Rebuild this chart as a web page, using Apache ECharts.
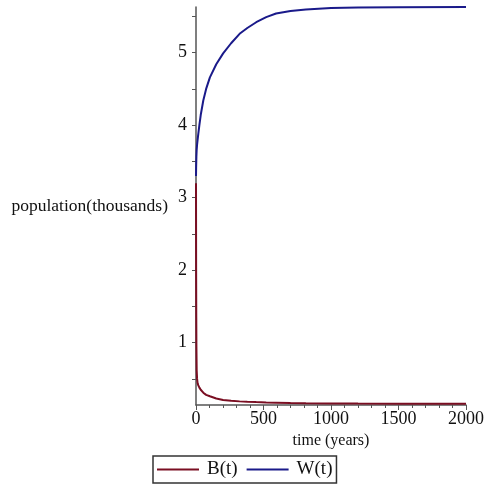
<!DOCTYPE html>
<html>
<head>
<meta charset="utf-8">
<script src="https://cdn.jsdelivr.net/npm/echarts@6/dist/echarts.min.js"></script>
<style>
  html, body { margin: 0; padding: 0; background: #fff; }
  #chart { width: 487px; height: 486px; }
</style>
</head>
<body>
<div id="chart"></div>
<script>
// time (years)
var years = [0, 1, 2, 3, 5, 8, 12, 17, 25, 35, 54, 75, 103, 150, 201, 260, 323, 380, 446, 520, 593, 700, 814, 1000, 1200, 1500, 2000];
// population (thousands)
var seriesB = [3.2, 2.0, 1.35, 0.95, 0.62, 0.5, 0.44, 0.41, 0.38, 0.35, 0.31, 0.28, 0.26, 0.23, 0.21, 0.2, 0.19, 0.185, 0.18, 0.175, 0.172, 0.168, 0.165, 0.162, 0.16, 0.158, 0.156];
var seriesW = [3.3, 3.42, 3.5, 3.57, 3.66, 3.73, 3.8, 3.88, 4.0, 4.14, 4.34, 4.5, 4.66, 4.84, 4.99, 5.13, 5.26, 5.34, 5.42, 5.49, 5.54, 5.575, 5.595, 5.615, 5.622, 5.627, 5.63];
var seriesNames = ['B(t)', 'W(t)'];
var xLabels = [0, 500, 1000, 1500, 2000];
var yLabels = [1, 2, 3, 4, 5];
var yTicks = [0.5, 1, 1.5, 2, 2.5, 3, 3.5, 4, 4.5, 5, 5.5];

var colors = ['#7a0e22', '#1a1a8a'];
var font = '"Liberation Serif", "DejaVu Serif", serif';

function pairs(vals) {
	var arr = [];
	years.map(function (t, i) {
		arr.push([t, vals[i]]);
	});
	return arr;
}

var myChart = echarts.init(document.getElementById('chart'));
var option = {
	backgroundColor: '#fff',
	animation: false,
	grid: { left: 196, right: 20, top: 7, bottom: 81 },
	legend: {
		data: seriesNames,
		left: 153,
		top: 456,
		icon: 'rect',
		itemWidth: 42,
		itemHeight: 2,
		itemGap: 9,
		padding: [4, 4, 4, 4],
		borderColor: '#333',
		borderWidth: 1.5,
		backgroundColor: '#fff',
		textStyle: { fontFamily: font, fontSize: 19, color: '#111', padding: [0, 0, 0, 3] }
	},
	xAxis: {
		type: 'value',
		min: 0,
		max: 2000,
		interval: 500,
		name: 'time (years)',
		nameLocation: 'middle',
		nameGap: 26,
		nameTextStyle: { fontFamily: font, fontSize: 16, color: '#111' },
		axisLine: { lineStyle: { color: '#555', width: 1.5 } },
		axisTick: { show: true, length: 5, lineStyle: { color: '#555' } },
		minorTick: { show: true, splitNumber: 5, length: 3, lineStyle: { color: '#555' } },
		splitLine: { show: false },
		axisLabel: {
			margin: 5,
			fontFamily: font,
			fontSize: 18,
			color: '#111',
			customValues: xLabels,
			formatter: function (v) { return String(v); }
		}
	},
	yAxis: {
		type: 'value',
		min: 0.14,
		max: 5.63,
		name: 'population(thousands)',
		nameLocation: 'middle',
		nameRotate: 0,
		nameGap: 28,
		nameTextStyle: { fontFamily: font, fontSize: 17.5, color: '#111', align: 'right' },
		axisLine: { show: true, lineStyle: { color: '#555', width: 1.5 } },
		axisTick: { show: true, length: 4, lineStyle: { color: '#555' }, customValues: yTicks },
		splitLine: { show: false },
		axisLabel: {
			margin: 9,
			fontFamily: font,
			fontSize: 18,
			color: '#111',
			customValues: yLabels
		}
	},
	series: [
		{
			name: seriesNames[0],
			type: 'line',
			showSymbol: false,
			data: pairs(seriesB),
			lineStyle: { color: colors[0], width: 2 },
			itemStyle: { color: colors[0] }
		},
		{
			name: seriesNames[1],
			type: 'line',
			showSymbol: false,
			data: pairs(seriesW),
			lineStyle: { color: colors[1], width: 2 },
			itemStyle: { color: colors[1] }
		}
	]
};
myChart.setOption(option);
</script>
</body>
</html>
